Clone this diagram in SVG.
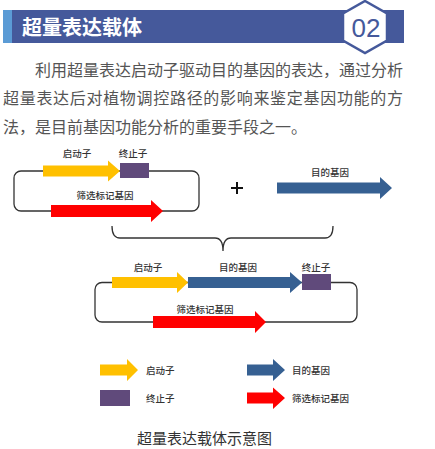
<svg xmlns="http://www.w3.org/2000/svg" width="435" height="449" viewBox="0 0 435 449">
<style>
.lbl{font-family:"Noto Sans CJK SC","Noto Sans",sans-serif;font-size:9.5px;fill:#333;font-weight:500;text-anchor:middle}
.lg{font-family:"Noto Sans CJK SC","Noto Sans",sans-serif;font-size:9.5px;fill:#333;font-weight:500}
.para{font-family:"Noto Sans CJK SC","Noto Sans",sans-serif;font-size:16px;fill:#555}
.loop{fill:none;stroke:#333;stroke-width:1.3}
.y{fill:#ffc000}.b{fill:#366092}.r{fill:#ff0000}.p{fill:#604a7b}
</style>
<rect width="435" height="449" fill="#fff"/>
<g id="header">
<rect x="3" y="10" width="401" height="33" fill="#45599b"/>
<rect x="3" y="10" width="9" height="33" fill="#5b9bd5"/>
<text x="22" y="34.5" font-family="'Noto Sans CJK SC',sans-serif" font-size="20" font-weight="bold" fill="#fff">超量表达载体</text>
<polygon points="365,1 387,13.5 387,40.5 365,53 343,40.5 343,13.5" fill="#fff" stroke="#45599b" stroke-width="2.5"/>
<text x="366" y="37" font-family="'Liberation Sans',sans-serif" font-size="26" fill="#45599b" text-anchor="middle">02</text>
</g>
<g id="paragraph" class="para">
<text x="35" y="76" textLength="368" lengthAdjust="spacing">利用超量表达启动子驱动目的基因的表达，通过分析</text>
<text x="3" y="104" textLength="400" lengthAdjust="spacing">超量表达后对植物调控路径的影响来鉴定基因功能的方</text>
<text x="3" y="133" textLength="304" lengthAdjust="spacing">法，是目前基因功能分析的重要手段之一。</text>
</g>
<g id="connectors">
<rect class="loop" x="14" y="171" width="185" height="40" rx="7"/>
<rect class="loop" x="95" y="282.5" width="262" height="39.5" rx="7"/>
<path class="loop" d="M112,226 Q112,238 120,238 L215,238 Q223,238 223,251 Q223,238 231,238 L325,238 Q333,238 333,226"/>
</g>
<g id="vector1">
<polygon class="y" points="43,165.5 108,165.5 108,160.5 120,171 108,181.5 108,176.5 43,176.5"/>
<rect class="p" x="120" y="163" width="29" height="15"/>
<polygon class="r" points="51,205 151,205 151,200 163,211 151,222 151,217 51,217"/>
<text class="lbl" x="77" y="156.5">启动子</text>
<text class="lbl" x="133" y="156.5">终止子</text>
<text class="lbl" x="105" y="198.5">筛选标记基因</text>
</g>
<g id="plus">
<path d="M231,188 H243 M237,182 V194" stroke="#111" stroke-width="2" fill="none"/>
</g>
<g id="target-gene">
<polygon class="b" points="277,182.5 380,182.5 380,177 392,188 380,199 380,193.5 277,193.5"/>
<text class="lbl" x="330" y="175.5">目的基因</text>
</g>
<g id="vector2">
<polygon class="y" points="112,277 177,277 177,272 188,282.5 177,293 177,288 112,288"/>
<polygon class="b" points="188,277 290,277 290,272 302,282.5 290,293 290,288 188,288"/>
<rect class="p" x="302" y="274" width="29" height="16"/>
<polygon class="r" points="153,316 255,316 255,311 266,322 255,333 255,328 153,328"/>
<text class="lbl" x="148" y="270.5">启动子</text>
<text class="lbl" x="238" y="270.5">目的基因</text>
<text class="lbl" x="316" y="270.5">终止子</text>
<text class="lbl" x="205" y="312.5">筛选标记基因</text>
</g>
<g id="legend">
<polygon class="y" points="100,364.5 127,364.5 127,359 138,370 127,381 127,375.5 100,375.5"/>
<text class="lg" x="146" y="373.5">启动子</text>
<polygon class="b" points="247,364.5 273,364.5 273,359 285,370 273,381 273,375.5 247,375.5"/>
<text class="lg" x="292" y="373.5">目的基因</text>
<rect class="p" x="100" y="390" width="30" height="16"/>
<text class="lg" x="146" y="401.5">终止子</text>
<polygon class="r" points="247,392.5 273,392.5 273,387.5 285,398 273,409 273,403.5 247,403.5"/>
<text class="lg" x="292" y="401.5">筛选标记基因</text>
</g>
<g id="caption">
<text x="137" y="443.5" font-family="'Noto Sans CJK SC',sans-serif" font-size="15" fill="#333">超量表达载体示意图</text>
</g>
</svg>
